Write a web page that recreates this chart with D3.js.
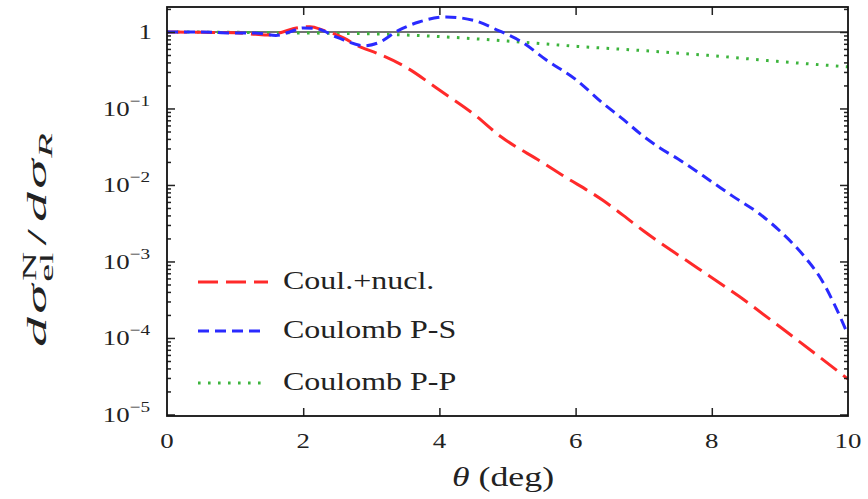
<!DOCTYPE html>
<html><head><meta charset="utf-8">
<script src="https://cdn.jsdelivr.net/npm/d3@7"></script>
<style>body{margin:0;background:#fff}svg{display:block}</style>
</head><body><svg id="c" width="868" height="499"></svg>
<script>
// ---- data ----
const thetaNucl = [0,0.5,1,1.3,1.5,1.7,1.9,2.1,2.3,2.6,2.8,3.1,3.5,4,4.5,4.9,5.5,5.8,6.4,6.7,7,7.8,8.4,9,10];
const coulNucl  = [1,0.99,0.98,0.93,0.91,1.0,1.13,1.17,1.05,0.83,0.66,0.52,0.35,0.174,0.085,0.043,0.020,0.0135,0.0063,0.004,0.0025,8.1e-4,3.5e-4,1.4e-4,2.9e-5];
const thetaPS   = [0,0.5,1,1.3,1.6,1.8,2.0,2.2,2.5,2.9,3.1,3.4,3.7,4.1,4.5,4.85,5.2,5.57,6.0,6.4,6.7,7.0,7.25,7.5,8.0,8.3,8.7,9.0,9.4,9.6,9.8,10];
const coulPS    = [1,1.0,0.97,0.97,0.9,1.0,1.13,1.1,0.85,0.66,0.72,1.05,1.35,1.57,1.42,1.06,0.75,0.43,0.24,0.117,0.072,0.043,0.030,0.022,0.011,0.0072,0.0042,0.0025,0.00105,6.0e-4,2.75e-4,1.1e-4];
const thetaPP   = [0,1,2,3,4,5,6,7,8,9,10];
const coulPP    = [1,0.99,0.97,0.945,0.87,0.76,0.65,0.57,0.49,0.41,0.35];
const seriesNames = ["Coul.+nucl.","Coulomb P-S","Coulomb P-P"];
const xTicks = [0,2,4,6,8,10];
const yTickExps = [-5,-4,-3,-2,-1,0];

// ---- layout / style ----
const L=167, R=848, T=7, B=416;
const SX = 1.28; // horizontal stretch of text in reference
const FONT = "'Liberation Serif', 'Times New Roman', serif";
const colors = ["#ff2a2a","#2a2aff","#3cb43c"];
const dashes = ["20,8","11,6","2.6,7.4"];

const svg = d3.select("#c");
const x = d3.scaleLinear().domain([0,10]).range([L,R]);
const y = d3.scaleLog().domain([9.55e-6, 2.12]).range([B,T]);

svg.append("defs").append("clipPath").attr("id","clip")
  .append("rect").attr("x",L).attr("y",T).attr("width",R-L).attr("height",B-T);

// reference line at 1
svg.append("line").attr("x1",L).attr("x2",R).attr("y1",y(1)).attr("y2",y(1))
  .attr("stroke","#444").attr("stroke-width",1.6);

const line = d3.line().x(d=>x(d[0])).y(d=>y(d[1])).curve(d3.curveMonotoneX);
const series = [
  d3.zip(thetaNucl, coulNucl),
  d3.zip(thetaPS, coulPS),
  d3.zip(thetaPP, coulPP)
];
const g = svg.append("g").attr("clip-path","url(#clip)");
[2,0,1].forEach(i=>{
  g.append("path").attr("d", line(series[i])).attr("fill","none")
   .attr("stroke",colors[i]).attr("stroke-width",3)
   .attr("stroke-dasharray",dashes[i]);
});

// axes (inward ticks)
const minor = [];
for (let e=-6;e<=0;e++) for (let m=2;m<=9;m++){const v=m*Math.pow(10,e); if(v>=y.domain()[0]&&v<=y.domain()[1]) minor.push(v);}
const majorY = yTickExps.map(e=>Math.pow(10,e));
function axisG(axis, tx, ty){
  const a = svg.append("g").attr("transform",`translate(${tx},${ty})`).call(axis);
  a.select(".domain").remove();
  a.selectAll("text").remove();
  a.selectAll("line").attr("stroke","#222").attr("stroke-width",1.5);
}
axisG(d3.axisLeft(y).tickValues(majorY).tickSize(-8), L, 0);
axisG(d3.axisLeft(y).tickValues(minor).tickSize(-4), L, 0);
axisG(d3.axisRight(y).tickValues(majorY).tickSize(-8), R, 0);
axisG(d3.axisRight(y).tickValues(minor).tickSize(-4), R, 0);
axisG(d3.axisBottom(x).tickValues(xTicks.slice(1,-1)).tickSize(-8), 0, B);
axisG(d3.axisTop(x).tickValues(xTicks.slice(1,-1)).tickSize(-8), 0, T);

svg.append("rect").attr("x",L).attr("y",T).attr("width",R-L).attr("height",B-T)
  .attr("fill","none").attr("stroke","#111").attr("stroke-width",1.8);

// tick labels
xTicks.forEach(v=>{
  svg.append("text").attr("transform",`translate(${x(v)},448) scale(${SX},1)`)
    .attr("text-anchor","middle").attr("font-family",FONT).attr("font-size",21)
    .attr("fill","#222").text(v);
});
yTickExps.forEach(e=>{
  const t = svg.append("text").attr("transform",`translate(${e===0?152:150},${y(Math.pow(10,e))+7.5}) scale(${SX},1)`)
    .attr("text-anchor","end").attr("font-family",FONT).attr("font-size",21).attr("fill","#222");
  if (e===0) t.text("1");
  else { t.append("tspan").text("10"); t.append("tspan").attr("dy",-10).attr("font-size",15).text("\u2212"+(-e)); }
});

// x label
const xl = svg.append("text").attr("transform",`translate(503,486) scale(${SX},1)`)
  .attr("text-anchor","middle").attr("font-family",FONT).attr("font-size",28).attr("fill","#222");
xl.append("tspan").attr("font-style","italic").text("\u03b8");
xl.append("tspan").text(" (deg)");

// y label
const yl = svg.append("text").attr("font-family",FONT).attr("font-size",34).attr("fill","#222");
yl.append("tspan").attr("font-style","italic").text("d");
yl.append("tspan").attr("dx",2).attr("font-style","italic").text("\u03c3");
yl.append("tspan").attr("dx",2).attr("dy",-13).attr("font-size",23).text("N");
yl.append("tspan").attr("dx",-17).attr("dy",21).attr("font-size",23).text("el");
yl.append("tspan").attr("dx",4).attr("dy",-8).text("/");
yl.append("tspan").attr("dx",4).attr("font-style","italic").text("d");
yl.append("tspan").attr("dx",2).attr("font-style","italic").text("\u03c3");
yl.append("tspan").attr("dx",1).attr("dy",7).attr("font-size",23).attr("font-style","italic").text("R");
const bb = yl.node().getBBox();
const sLen = 214/bb.width, sTh = 38/bb.height;
yl.attr("transform",`translate(38,240) rotate(-90) scale(${sLen},${sTh}) translate(${-(bb.x+bb.width/2)},${-(bb.y+bb.height/2)})`);

// legend
const legY = [282,331,383];
const legX2 = [268,262,262];
seriesNames.forEach((name,i)=>{
  svg.append("line").attr("x1",198).attr("x2",legX2[i]).attr("y1",legY[i]).attr("y2",legY[i])
    .attr("stroke",colors[i]).attr("stroke-width",3).attr("stroke-dasharray",dashes[i]);
  svg.append("text").attr("transform",`translate(283,${legY[i]+6.5}) scale(${SX},1)`)
    .attr("font-family",FONT).attr("font-size",25).attr("fill","#222").text(name);
});
</script></body></html>
